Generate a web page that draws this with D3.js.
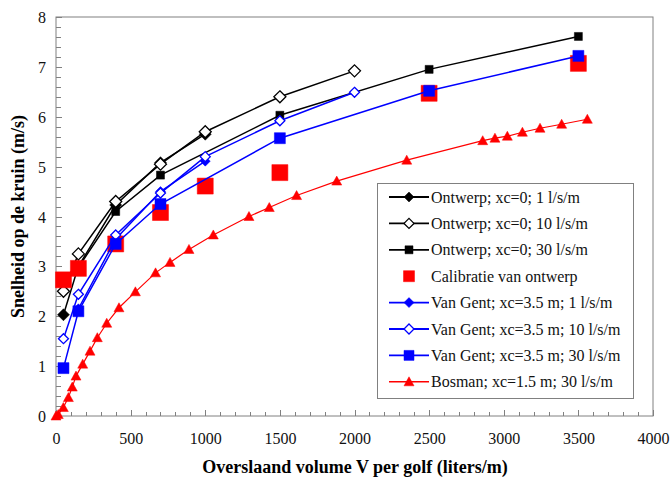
<!DOCTYPE html>
<html>
<head>
<meta charset="utf-8">
<script src="https://cdn.jsdelivr.net/npm/d3@7"></script>
<style>
  html, body { margin: 0; padding: 0; background: #fff; }
</style>
</head>
<body>
<svg id="chart" width="672" height="487"></svg>
<script>
// Overslaand volume V (liters/m) and snelheid op de kruin (m/s) per reeks
const ontwerp1V = [50, 150, 400, 700, 1000];
const ontwerp1U = [2.03, 3.0, 4.23, 5.08, 5.65];
const ontwerp10V = [50, 150, 400, 700, 1000, 1500, 2000];
const ontwerp10U = [2.5, 3.25, 4.3, 5.05, 5.7, 6.4, 6.92];
const ontwerp30V = [50, 150, 400, 700, 1500, 2500, 3500];
const ontwerp30U = [2.73, 2.98, 4.1, 4.83, 6.03, 6.95, 7.61];
const calibratieV = [50, 150, 400, 700, 1000, 1500, 2500, 3500];
const calibratieU = [2.73, 2.96, 3.45, 4.08, 4.61, 4.88, 6.47, 7.07];
const vanGent1V = [150, 400, 700, 1000];
const vanGent1U = [2.15, 3.55, 4.5, 5.11];
const vanGent10V = [50, 150, 400, 700, 1000, 1500, 2000];
const vanGent10U = [1.55, 2.44, 3.63, 4.47, 5.2, 5.92, 6.49];
const vanGent30V = [50, 150, 400, 700, 1500, 2500, 3500];
const vanGent30U = [0.96, 2.1, 3.45, 4.25, 5.57, 6.52, 7.22];
const bosmanV = [0, 15, 49, 83, 109, 134, 179, 228, 277, 340, 422, 532, 667, 764, 891,
                 1054, 1293, 1429, 1612, 1881, 2350, 2859, 2941, 3024, 3125, 3243, 3388, 3560];
const bosmanU = [0, 0.03, 0.17, 0.37, 0.58, 0.80, 1.04, 1.30, 1.57, 1.86, 2.17, 2.49, 2.87, 3.08, 3.34,
                 3.63, 4.00, 4.18, 4.42, 4.71, 5.13, 5.52, 5.57, 5.61, 5.69, 5.77, 5.85, 5.95];

const xTicks = [0, 500, 1000, 1500, 2000, 2500, 3000, 3500, 4000];
const yTicks = [0, 1, 2, 3, 4, 5, 6, 7, 8];

const seriesNames = [
  "Ontwerp; xc=0; 1 l/s/m",
  "Ontwerp; xc=0; 10 l/s/m",
  "Ontwerp; xc=0; 30 l/s/m",
  "Calibratie van ontwerp",
  "Van Gent; xc=3.5 m; 1 l/s/m",
  "Van Gent; xc=3.5 m; 10 l/s/m",
  "Van Gent; xc=3.5 m; 30 l/s/m",
  "Bosman; xc=1.5 m; 30 l/s/m"
];

const FONT = "'Liberation Serif', 'Times New Roman', Times, 'DejaVu Serif', serif";

const zip = (xs, ys) => xs.map((x, i) => ({ x, y: ys[i] }));

const series = [
  { name: seriesNames[0], data: zip(ontwerp1V, ontwerp1U),   color: "#000", line: true,  lw: 1.5, shape: "diamond",  size: 12, fill: true },
  { name: seriesNames[1], data: zip(ontwerp10V, ontwerp10U), color: "#000", line: true,  lw: 1.5, shape: "diamond",  size: 12, fill: false },
  { name: seriesNames[2], data: zip(ontwerp30V, ontwerp30U), color: "#000", line: true,  lw: 1.5, shape: "square",   size: 8,  fill: true },
  { name: seriesNames[3], data: zip(calibratieV, calibratieU), color: "#ff0000", line: false, lw: 0, shape: "square", size: 16, fill: true },
  { name: seriesNames[4], data: zip(vanGent1V, vanGent1U),   color: "#0000ff", line: true, lw: 1.5, shape: "diamond", size: 10, fill: true },
  { name: seriesNames[5], data: zip(vanGent10V, vanGent10U), color: "#0000ff", line: true, lw: 1.5, shape: "diamond", size: 10, fill: false },
  { name: seriesNames[6], data: zip(vanGent30V, vanGent30U), color: "#0000ff", line: true, lw: 1.5, shape: "square",  size: 11, fill: true },
  { name: seriesNames[7], data: zip(bosmanV, bosmanU),       color: "#ff0000", line: true, lw: 1.2, shape: "triangle", size: 10, fill: true }
];

const svg = d3.select("#chart");
const plot = { left: 56, top: 17, right: 653, bottom: 416 };

const x = d3.scaleLinear().domain([0, 4000]).range([plot.left, plot.right]);
const y = d3.scaleLinear().domain([0, 8]).range([plot.bottom, plot.top]);

// plot frame
svg.append("rect")
  .attr("x", plot.left).attr("y", plot.top)
  .attr("width", plot.right - plot.left).attr("height", plot.bottom - plot.top)
  .attr("fill", "none").attr("stroke", "#808080").attr("stroke-width", 1);

// inward tick marks (major + minor)
const tickColor = "#808080";
const xMinor = d3.range(0, 4001, 100);
const yMinor = d3.range(0, 8.0001, 0.2);
svg.append("g").selectAll("line").data(xMinor).join("line")
  .attr("x1", d => Math.round(x(d)) + 0.5).attr("x2", d => Math.round(x(d)) + 0.5)
  .attr("y1", plot.bottom).attr("y2", d => plot.bottom - (d % 500 === 0 ? 6 : 4))
  .attr("stroke", tickColor);
svg.append("g").selectAll("line").data(yMinor).join("line")
  .attr("y1", d => Math.round(y(d)) + 0.5).attr("y2", d => Math.round(y(d)) + 0.5)
  .attr("x1", plot.left).attr("x2", d => plot.left + (Math.abs(d - Math.round(d)) < 1e-6 ? 6 : 5))
  .attr("stroke", tickColor);

// axis labels
const xAxis = d3.axisBottom(x).tickValues(xTicks).tickSize(0).tickPadding(0).tickFormat(d3.format("d"));
const gx = svg.append("g").attr("transform", `translate(0,${plot.bottom + 28})`).call(xAxis);
gx.select(".domain").remove();
gx.selectAll("text").style("font-family", FONT).style("font-size", "16px").attr("fill", "#111").attr("dy", 0);

const yAxis = d3.axisLeft(y).tickValues(yTicks).tickSize(0).tickPadding(0).tickFormat(d3.format("d"));
const gy = svg.append("g").attr("transform", `translate(${plot.left - 10},0)`).call(yAxis);
gy.select(".domain").remove();
gy.selectAll("text").style("font-family", FONT).style("font-size", "16px").attr("fill", "#111").attr("dy", "0.35em");

// axis titles
svg.append("text")
  .attr("x", 355).attr("y", 473)
  .attr("text-anchor", "middle")
  .style("font-family", FONT).style("font-weight", "bold").style("font-size", "18px")
  .text("Overslaand volume V per golf (liters/m)");
svg.append("text")
  .attr("transform", `translate(24,${(plot.top + plot.bottom) / 2}) rotate(-90)`)
  .attr("text-anchor", "middle")
  .style("font-family", FONT).style("font-weight", "bold").style("font-size", "18px")
  .text("Snelheid op de kruin (m/s)");

function markerPath(shape, size) {
  const h = size / 2;
  if (shape === "diamond") return `M0,${-h}L${h},0L0,${h}L${-h},0Z`;
  if (shape === "square") return `M${-h},${-h}H${h}V${h}H${-h}Z`;
  if (shape === "triangle") return `M0,${-h}L${h},${h * 0.8}L${-h},${h * 0.8}Z`;
  return "";
}

function drawMarker(g, s, cx, cy) {
  g.append("path")
    .attr("d", markerPath(s.shape, s.size))
    .attr("transform", `translate(${cx},${cy})`)
    .attr("fill", s.fill ? s.color : "#fff")
    .attr("stroke", s.color)
    .attr("stroke-width", s.fill ? 0.5 : 1.3);
}

const line = d3.line().x(d => x(d.x)).y(d => y(d.y));

const plotG = svg.append("g");
series.forEach(s => {
  const g = plotG.append("g");
  if (s.line) {
    g.append("path").datum(s.data).attr("d", line)
      .attr("fill", "none").attr("stroke", s.color).attr("stroke-width", s.lw);
  }
  s.data.forEach(d => drawMarker(g, s, x(d.x), y(d.y)));
});

// legend
const leg = svg.append("g");
leg.append("rect").attr("x", 377.5).attr("y", 183.5).attr("width", 256).attr("height", 215)
  .attr("fill", "#fff").attr("stroke", "#808080").attr("stroke-width", 1);
series.forEach((s, i) => {
  const cy = 197 + i * 26.4;
  const g = leg.append("g");
  if (s.line) {
    g.append("line").attr("x1", 389).attr("x2", 429).attr("y1", cy).attr("y2", cy)
      .attr("stroke", s.color).attr("stroke-width", s.lw + 0.3);
  }
  const ls = Object.assign({}, s, { size: s.shape === "square" && !s.line ? 11 : Math.min(s.size, 10) });
  drawMarker(g, ls, 409, cy);
  g.append("text").attr("x", 431).attr("y", cy).attr("dy", "0.35em")
    .style("font-family", FONT).style("font-size", "16px").attr("fill", "#111").text(s.name);
});
</script>
</body>
</html>
